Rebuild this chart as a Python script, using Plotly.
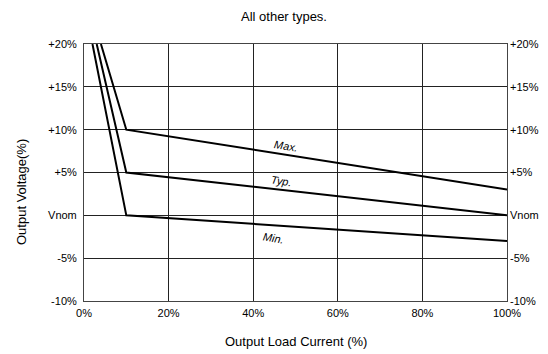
import plotly.graph_objects as go

load_pct = [2.0, 10.0, 100.0]
min_v = [20.0, 0.0, -3.0]
typ_x = [3.0, 10.0, 100.0]
typ_v = [20.0, 5.0, 0.0]
max_x = [4.0, 10.0, 100.0]
max_v = [20.0, 10.0, 3.0]

y_ticks = [-10, -5, 0, 5, 10, 15, 20]
y_labels = ["-10%", "-5%", "Vnom", "+5%", "+10%", "+15%", "+20%"]
x_ticks = [0, 20, 40, 60, 80, 100]
x_labels = ["0%", "20%", "40%", "60%", "80%", "100%"]

FONT = "Liberation Sans, Arial, sans-serif"

# page has an 8px body margin; plot area target: x 84..507, y 44..301
fig = go.Figure()
line = dict(color="black", width=2)
fig.add_trace(go.Scatter(x=load_pct, y=min_v, mode="lines", line=line, showlegend=False))
fig.add_trace(go.Scatter(x=typ_x, y=typ_v, mode="lines", line=line, showlegend=False))
fig.add_trace(go.Scatter(x=max_x, y=max_v, mode="lines", line=line, showlegend=False))
fig.add_trace(go.Scatter(x=[0], y=[0], yaxis="y2", mode="markers",
                         marker=dict(opacity=0), showlegend=False, hoverinfo="skip"))

labels = [("Max.", 47.8, 8.05), ("Typ.", 46.8, 3.95), ("Min.", 44.7, -2.6)]
for txt, xv, yv in labels:
    fig.add_annotation(x=xv, y=yv, text=txt, showarrow=False, textangle=9,
                       font=dict(family=FONT, size=11, color="black", style="italic"))

fig.add_annotation(text="All other types.", xref="paper", yref="paper",
                   x=(284 - 84) / 423, y=(301 - 17) / 257, showarrow=False,
                   xanchor="center", yanchor="middle",
                   font=dict(family=FONT, size=13, color="black"))
fig.add_annotation(text="Output Load Current (%)", xref="paper", yref="paper",
                   x=(296 - 84) / 423, y=(301 - 342) / 257, showarrow=False,
                   xanchor="center", yanchor="middle",
                   font=dict(family=FONT, size=13, color="black"))
fig.add_annotation(text="Output Voltage(%)", xref="paper", yref="paper",
                   x=(21 - 84) / 423, y=(301 - 192) / 257, showarrow=False,
                   textangle=-90, xanchor="center", yanchor="middle",
                   font=dict(family=FONT, size=13, color="black"))

axis_common = dict(showgrid=True, gridcolor="#222", gridwidth=1, zeroline=False,
                   ticks="", automargin=False,
                   tickfont=dict(family=FONT, size=11, color="black"))

fig.update_layout(
    width=540, height=346,
    margin=dict(l=76, r=41, t=36, b=53),
    paper_bgcolor="white", plot_bgcolor="white",
    xaxis=dict(range=[0, 100], tickvals=x_ticks, ticktext=x_labels,
               showline=True, linecolor="#444", linewidth=1, mirror=True,
               ticklabelstandoff=2, **axis_common),
    yaxis=dict(range=[-10, 20], tickvals=y_ticks, ticktext=y_labels,
               showline=True, linecolor="#444", linewidth=1, mirror=True,
               ticklabelstandoff=4, **axis_common),
    yaxis2=dict(range=[-10, 20], tickvals=y_ticks, ticktext=y_labels, overlaying="y",
                side="right", showgrid=False, zeroline=False, ticks="", automargin=False,
                ticklabelstandoff=2,
                tickfont=dict(family=FONT, size=11, color="black")),
)

fig.write_html("out.html")
